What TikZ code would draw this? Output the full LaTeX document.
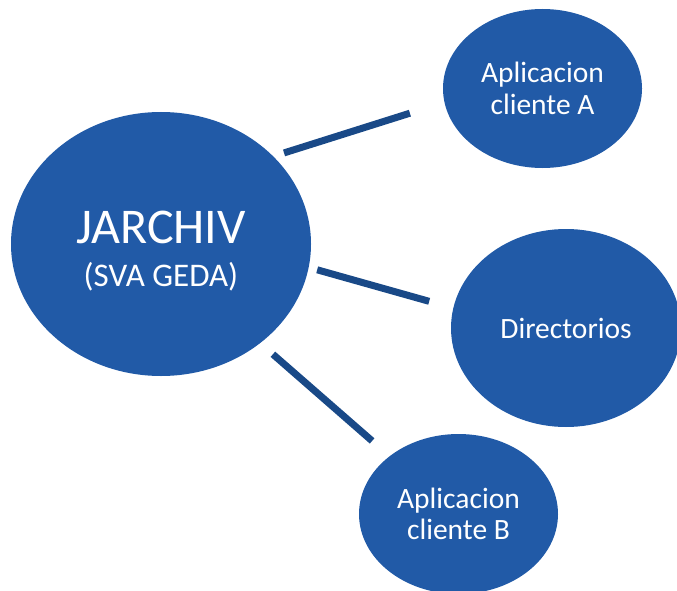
\documentclass[tikz,border=0pt]{standalone}
\usepackage{fontspec}
\setmainfont{Carlito}
\usetikzlibrary{shapes.geometric}
\definecolor{bubblefill}{RGB}{33,90,167}
\definecolor{linkblue}{RGB}{25,73,135}

\begin{document}
\begin{tikzpicture}[x=1pt,y=-1pt,
    bubble/.style={ellipse,fill=bubblefill,text=white,inner sep=0pt,outer sep=0pt,align=center,font=\fontsize{29.5}{31.6}\selectfont},
    link/.style={line width=7pt,draw=linkblue}]
            \useasboundingbox (0,0) rectangle (677,591);
            \node[bubble,minimum width=300pt,minimum height=264pt,font=\fontsize{50}{43}\selectfont] (jarchiv) at (161,244) {\rule{0pt}{46pt}JARCHIV\\{\fontsize{33}{43}\selectfont(SVA GEDA)}};
            \node[bubble,minimum width=199pt,minimum height=159pt] (appA) at (542.5,88.5) {Aplicacion\\cliente A};
            \node[bubble,minimum width=230pt,minimum height=198pt] (dirs) at (566,328) {Directorios};
            \node[bubble,minimum width=199pt,minimum height=160pt] (appB) at (458.5,514) {Aplicacion\\cliente B};

            \draw[link,shorten <=11.4pt,shorten >=36.3pt] (jarchiv.38.6) -- (appA.188.8);
            \draw[link,shorten <=8.9pt,shorten >=25.1pt] (jarchiv.-9.5) -- (dirs.170.3);
            \draw[link,shorten <=17pt,shorten >=23.3pt] (jarchiv.-45.5) -- (appB.140);
        \end{tikzpicture}
\end{document}
